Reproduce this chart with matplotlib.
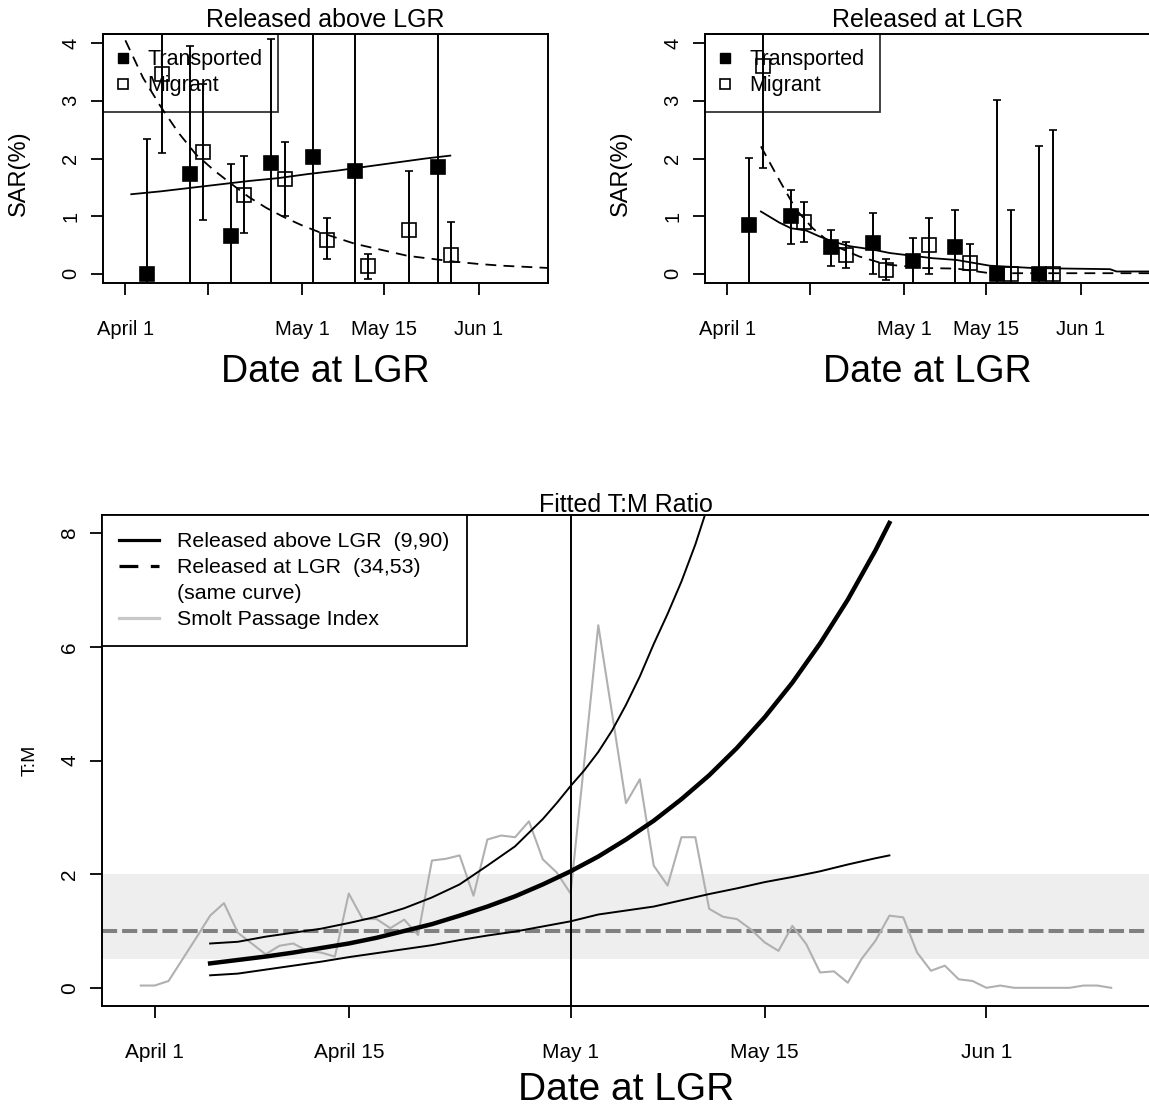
import numpy as np
import matplotlib.pyplot as plt
from matplotlib.lines import Line2D

plt.rcParams['font.family'] = ['Liberation Sans', 'DejaVu Sans']

# x axis is days after April 1
tick_days = [0, 14, 30, 44, 60]
top_tick_labels = ['April 1', '', 'May 1', 'May 15', 'Jun 1']
bottom_tick_labels = ['April 1', 'April 15', 'May 1', 'May 15', 'Jun 1']

# Released above LGR: SAR (%) with interval bounds
above_trans_day = [3.7, 10.9, 18.0, 24.8, 31.9, 39.0, 53.1]
above_trans_sar = [0.0, 1.73, 0.66, 1.92, 2.03, 1.78, 1.85]
above_trans_lo = [-0.5, -0.5, -0.5, -0.5, -0.5, -0.5, -0.5]
above_trans_hi = [2.33, 3.96, 1.90, 4.07, 4.5, 4.5, 4.5]

above_mig_day = [6.2, 13.2, 20.2, 27.2, 34.3, 41.3, 48.2, 55.3]
above_mig_sar = [3.46, 2.11, 1.37, 1.64, 0.59, 0.13, 0.76, 0.32]
above_mig_lo = [2.10, 0.93, 0.70, 1.00, 0.25, -0.09, -0.5, -0.5]
above_mig_hi = [4.5, 3.29, 2.04, 2.28, 0.96, 0.34, 1.79, 0.90]

above_trans_fit_day = [1, 6, 11, 16, 21, 26, 31, 36, 41, 46, 51, 55.2]
above_trans_fit = [1.38, 1.43, 1.49, 1.55, 1.61, 1.66, 1.73, 1.79, 1.86, 1.93, 2.00, 2.05]
above_mig_fit_day = [0, 3, 6, 9, 12, 15, 18, 21, 24, 27, 30, 33, 36, 39, 42, 45, 48,
                     52, 56, 60, 64, 68, 72]
above_mig_fit = [4.05, 3.40, 2.90, 2.45, 2.07, 1.80, 1.56, 1.33, 1.14, 0.98, 0.84, 0.72,
                 0.62, 0.52, 0.45, 0.38, 0.31, 0.26, 0.21, 0.17, 0.14, 0.12, 0.10]

# Released at LGR
at_trans_day = [3.74, 10.8, 17.6, 24.8, 31.6, 38.7, 45.8, 52.9]
at_trans_sar = [0.85, 1.0, 0.46, 0.53, 0.22, 0.47, 0.0, 0.0]
at_trans_lo = [-0.5, 0.52, 0.14, 0.0, -0.5, -0.5, -0.5, -0.5]
at_trans_hi = [2.01, 1.45, 0.76, 1.05, 0.62, 1.11, 3.01, 2.21]

at_mig_day = [6.1, 13.0, 20.1, 27.0, 34.2, 41.2, 48.2, 55.3]
at_mig_sar = [3.60, 0.89, 0.33, 0.07, 0.50, 0.18, 0.0, 0.0]
at_mig_lo = [1.84, 0.56, 0.10, -0.1, 0.0, -0.5, -0.5, -0.5]
at_mig_hi = [4.5, 1.25, 0.56, 0.25, 0.97, 0.52, 1.11, 2.49]

at_trans_fit_day = [5.7, 8.8, 10.8, 13.4, 15.6, 17.9, 20.7, 24.7, 27.6, 30, 34.9, 38.9,
                    44.6, 51.9, 58, 65, 66.1, 72]
at_trans_fit = [1.08, 0.89, 0.79, 0.75, 0.65, 0.56, 0.48, 0.42, 0.36, 0.33, 0.27, 0.24,
                0.14, 0.10, 0.09, 0.08, 0.04, 0.04]
at_mig_fit_day = [5.7, 8.8, 11.7, 14.5, 17.9, 22.4, 27, 29.3, 33.2, 38.9, 44.6, 72]
at_mig_fit = [2.21, 1.63, 1.11, 0.79, 0.50, 0.30, 0.16, 0.14, 0.10, 0.09, 0.01, 0.01]

# Fitted T:M ratio (bottom panel)
tm_day = list(range(4, 53, 2)) + [53]
tm_fit = [0.43, 0.49, 0.55, 0.62, 0.70, 0.78, 0.88, 1.00, 1.12, 1.27, 1.43, 1.61, 1.82,
          2.05, 2.31, 2.61, 2.94, 3.32, 3.74, 4.22, 4.76, 5.37, 6.06, 6.83, 7.70, 8.18]
tm_low = [0.22, 0.25, 0.32, 0.39, 0.46, 0.54, 0.61, 0.68, 0.75, 0.84, 0.92, 0.99, 1.08,
          1.17, 1.29, 1.36, 1.43, 1.54, 1.65, 1.75, 1.86, 1.95, 2.05, 2.17, 2.28, 2.33]
tm_up_day = list(range(4, 28, 2)) + list(range(28, 41))
tm_up = [0.78, 0.81, 0.90, 0.97, 1.04, 1.14, 1.25, 1.40, 1.59, 1.82, 2.15, 2.49,
         2.97, 3.25, 3.55, 3.83, 4.15, 4.53, 4.98, 5.48, 6.05, 6.58, 7.15, 7.80, 8.55]

smolt_day = list(range(-1, 70))
smolt_index = [0.04, 0.04, 0.12, 0.50, 0.88, 1.27, 1.49, 0.97, 0.78, 0.59, 0.74, 0.78,
               0.65, 0.62, 0.55, 1.66, 1.21, 1.21, 1.05, 1.20, 0.93, 2.24, 2.27, 2.33,
               1.62, 2.61, 2.68, 2.65, 2.93, 2.26, 2.03, 1.66, 4.0, 6.38, 4.82, 3.25,
               3.67, 2.15, 1.80, 2.65, 2.65, 1.39, 1.25, 1.21, 1.03, 0.80, 0.65, 1.09,
               0.77, 0.27, 0.29, 0.09, 0.51, 0.83, 1.27, 1.24, 0.62, 0.30, 0.39, 0.15,
               0.12, 0.0, 0.04, 0.0, 0.0, 0.0, 0.0, 0.0, 0.04, 0.04, 0.0]

W, H = 1149, 1110
fig = plt.figure(figsize=(W / 100, H / 100), dpi=100)


def px_axes(left, top, right, bottom):
    return fig.add_axes([left / W, 1 - bottom / H, (right - left) / W, (bottom - top) / H])


def style_axes(ax, ylim, yticks, xlabels, labelsize):
    ax.set_xlim(-3.8, 71.8)
    ax.set_ylim(*ylim)
    ax.set_xticks(tick_days)
    ax.set_xticklabels(xlabels)
    ax.set_yticks(yticks)
    ax.tick_params(direction='out', length=8.5, width=1.3, labelsize=labelsize)
    ax.tick_params(axis='x', pad=18)
    ax.tick_params(axis='y', pad=8, labelrotation=90)
    for lab in ax.get_yticklabels():
        lab.set_va('center')
    for s in ax.spines.values():
        s.set_linewidth(1.4)


def sar_points(ax, day, sar, lo, hi, filled):
    sar = np.array(sar)
    yerr = [sar - np.array(lo), np.array(hi) - sar]
    ax.errorbar(day, sar, yerr=yerr, fmt='s', ms=10, mfc='black' if filled else 'none',
                mec='black', mew=1.2, ecolor='black', elinewidth=1.4, capsize=2.9,
                capthick=1.4, zorder=3)


def sar_panel(ax, title, trans, mig, trans_fit, mig_fit):
    ax.plot(trans_fit[0], trans_fit[1], color='black', lw=1.3, zorder=2)
    ax.plot(mig_fit[0], mig_fit[1], color='black', lw=1.3, ls=(0, (6, 4)), zorder=2)
    sar_points(ax, *trans, filled=True)
    sar_points(ax, *mig, filled=False)
    style_axes(ax, (-0.16, 4.16), [0, 1, 2, 3, 4], top_tick_labels, 14.5)
    ax.set_title(title, fontsize=18, y=1.058, pad=0, va='center')
    ax.set_ylabel('SAR(%)', fontsize=17, va='center')
    ax.yaxis.set_label_coords(-0.188, 0.44)
    ax.set_xlabel('Date at LGR', fontsize=27, va='center')
    ax.xaxis.set_label_coords(0.5, -0.357)
    handles = [Line2D([], [], ls='none', marker='s', ms=6.5, mfc='black', mec='black'),
               Line2D([], [], ls='none', marker='s', ms=6.5, mfc='white', mec='black',
                      mew=1.2)]
    leg = ax.legend(handles, ['Transported', 'Migrant'], loc='upper left',
                    bbox_to_anchor=(0, 1), borderaxespad=0, fontsize=15.5,
                    fancybox=False, edgecolor='black', facecolor='none',
                    handlelength=0.4, handletextpad=0.95, borderpad=0.72,
                    labelspacing=0.22)
    leg.get_frame().set_linewidth(1.3)
    leg.set_zorder(1)


ax1 = px_axes(103, 34, 548, 283)
sar_panel(ax1, 'Released above LGR',
          (above_trans_day, above_trans_sar, above_trans_lo, above_trans_hi),
          (above_mig_day, above_mig_sar, above_mig_lo, above_mig_hi),
          (above_trans_fit_day, above_trans_fit), (above_mig_fit_day, above_mig_fit))

ax2 = px_axes(705, 34, 1150, 283)
sar_panel(ax2, 'Released at LGR',
          (at_trans_day, at_trans_sar, at_trans_lo, at_trans_hi),
          (at_mig_day, at_mig_sar, at_mig_lo, at_mig_hi),
          (at_trans_fit_day, at_trans_fit), (at_mig_fit_day, at_mig_fit))

# bottom panel
ax3 = px_axes(102, 515, 1150, 1006)
ax3.axhspan(0.5, 2.0, color='#eeeeee', lw=0, zorder=0)
ax3.axhline(1.0, color='#808080', lw=2.9, ls=(0, (3.75, 1.25)), zorder=1)
ax3.plot(smolt_day, smolt_index, color='#b0b0b0', lw=1.5, zorder=2)
ax3.plot(tm_day, tm_fit, color='black', lw=3.2, zorder=3)
ax3.plot(tm_day, tm_low, color='black', lw=1.4, zorder=3)
ax3.plot(tm_up_day, tm_up, color='black', lw=1.4, zorder=3)
ax3.axvline(30, color='black', lw=1.4, zorder=3)
style_axes(ax3, (-0.32, 8.32), [0, 2, 4, 6, 8], bottom_tick_labels, 15)
ax3.set_title('Fitted T:M Ratio', fontsize=18, y=1.02, pad=0, va='center')
ax3.set_ylabel('T:M', fontsize=14, va='center')
ax3.yaxis.set_label_coords(-0.069, 0.5)
ax3.set_xlabel('Date at LGR', fontsize=28, va='center')
ax3.xaxis.set_label_coords(0.5, -0.171)

handles = [Line2D([], [], color='black', lw=2.3),
           Line2D([], [], color='black', lw=2.3, ls=(0, (5.9, 3.9))),
           Line2D([], [], color='none'),
           Line2D([], [], color='#c8c8c8', lw=2.3)]
labels = ['Released above LGR  (9,90)', 'Released at LGR  (34,53)', '(same curve)',
          'Smolt Passage Index']
leg = ax3.legend(handles, labels, loc='upper left', bbox_to_anchor=(0, 1),
                 borderaxespad=0, fontsize=15.4, fancybox=False, edgecolor='black',
                 facecolor='white', framealpha=1, handlelength=1.87,
                 handletextpad=0.84, borderpad=0.8, labelspacing=0.33)
leg.get_frame().set_linewidth(1.3)

fig.savefig('out.png', dpi=100, facecolor='white')
